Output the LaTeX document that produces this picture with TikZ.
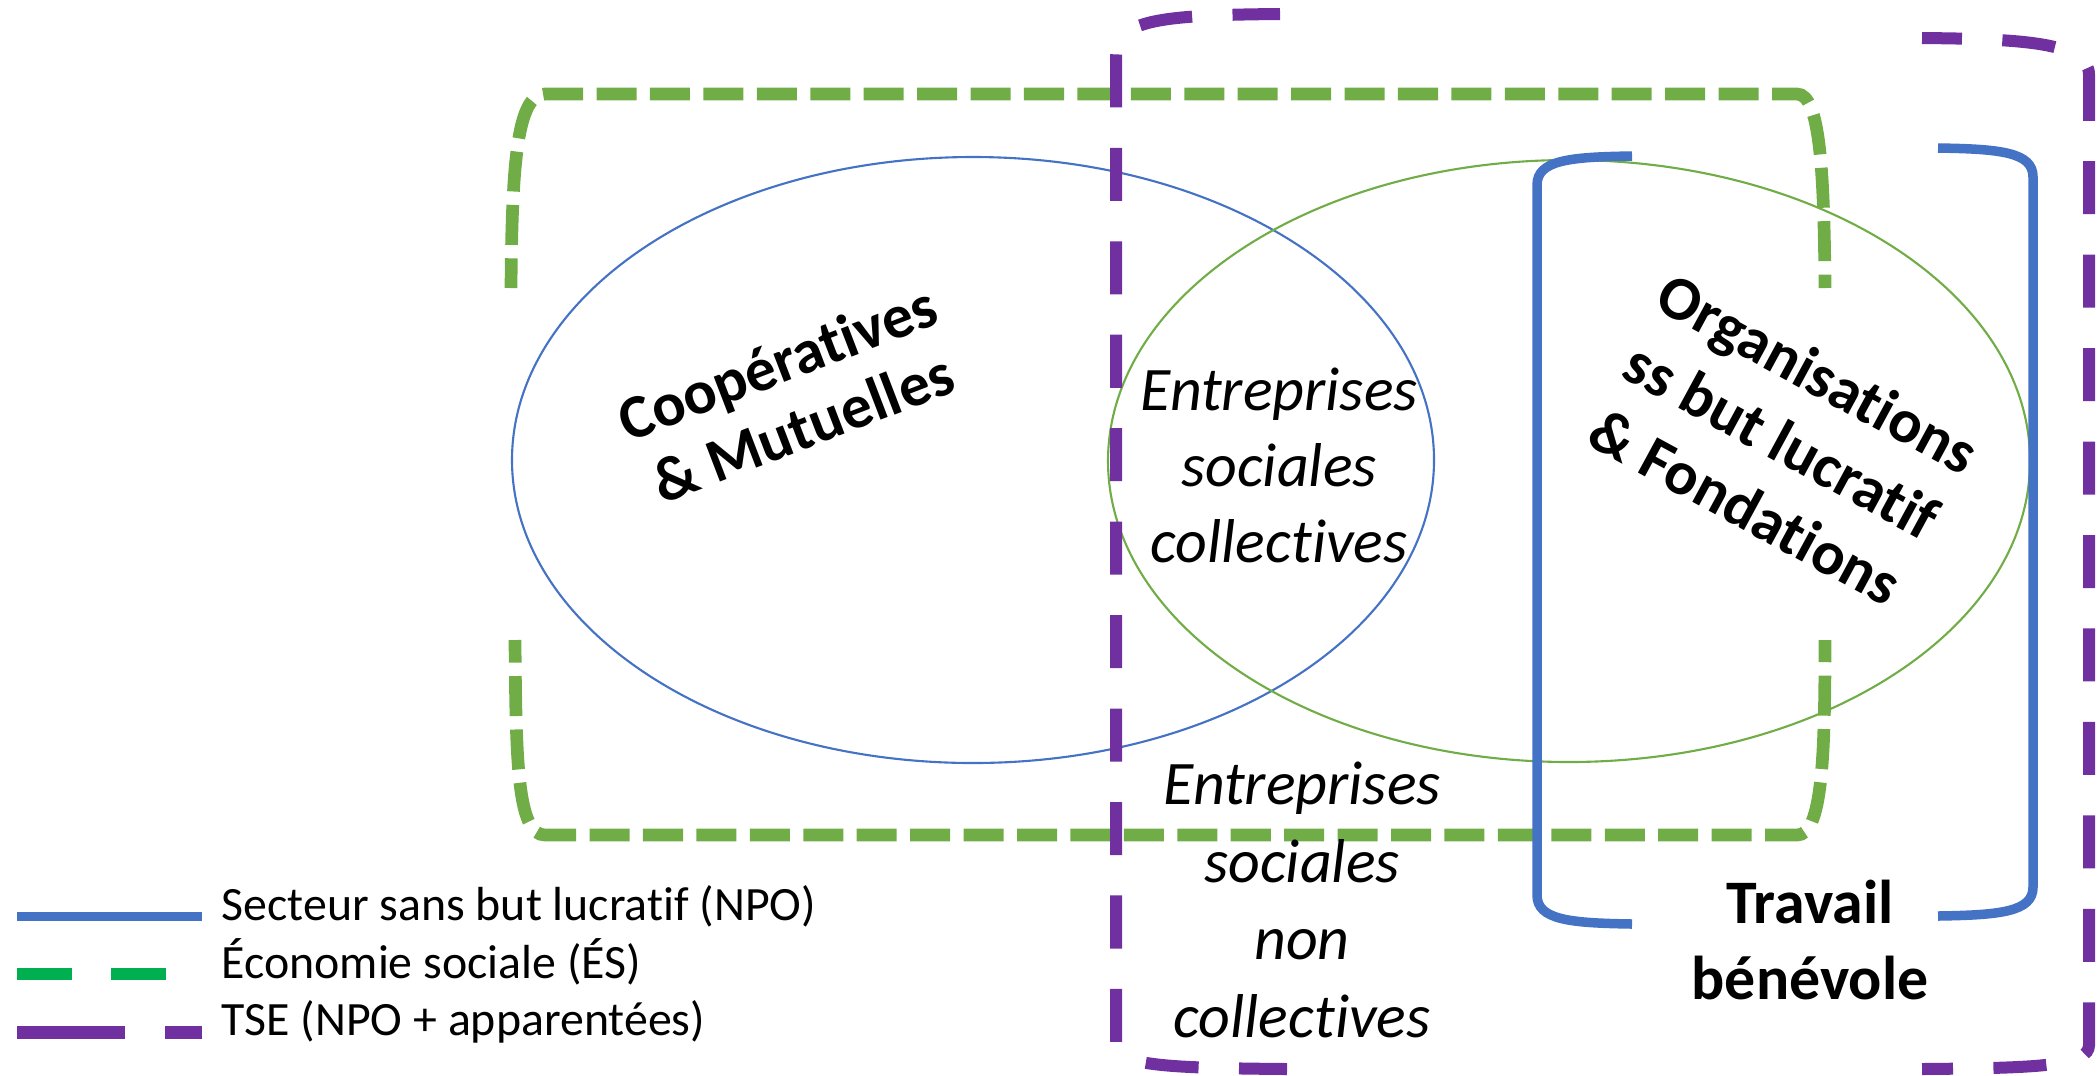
\documentclass[tikz,border=0pt]{standalone}
\usepackage{fontspec}
\setmainfont{Carlito}[Ligatures=NoCommon]
\definecolor{npoblue}{HTML}{4472C4}
\definecolor{esgreen}{HTML}{70AD47}
\definecolor{lggreen}{HTML}{00B050}
\definecolor{tsepurple}{HTML}{7030A0}

\begin{document}
\begin{tikzpicture}[x=0.01cm,y=-0.01cm,
  ov/.style={line width=0.6pt},
  npo/.style={draw=npoblue,line width=0.095cm},
  es/.style={draw=esgreen,line width=0.127cm,dash pattern=on 0.4cm off 0.134cm},
  tse/.style={draw=tsepurple,line width=0.12cm,dash pattern=on 0.53cm off 0.404cm},
  lbl/.style={align=center,inner sep=0pt},
  leg/.style={anchor=base west,inner sep=0pt,font=\fontsize{13.6}{16}\selectfont}]
\useasboundingbox (0,0) rectangle (2098,1075);
\draw[ov,npoblue] (973,460) ellipse [x radius=461,y radius=303];
\draw[ov,esgreen] (1569,461) ellipse [x radius=461,y radius=301];
\draw[es,dash phase=0.103cm] (511,288) .. controls (512,170) and (516,94) .. (545,94)
  -- (1797,94) .. controls (1820,94) and (1824,170) .. (1825,288);
\draw[es,dash phase=0.174cm] (515,640) .. controls (516,760) and (517,835) .. (545,835)
  -- (1797,835) .. controls (1822,835) and (1825,760) .. (1825,640);
\draw[npo] (1632,156) .. controls (1570,157) and (1537,160) .. (1537,185)
  -- (1537,895) .. controls (1537,920) and (1570,923) .. (1632,924);
\draw[npo] (1938,148) .. controls (2000,149) and (2033,152) .. (2033,177)
  -- (2033,887) .. controls (2033,912) and (2000,915) .. (1938,916);
\draw[tse,dash phase=0.05cm] (1287,1069) .. controls (1170,1068) and (1116,1066) .. (1116,1045)
  -- (1116,55) .. controls (1116,20) and (1160,15) .. (1280,14);
\draw[tse,dash phase=0.131cm] (1922,38) .. controls (2020,39) and (2089,42) .. (2089,75)
  -- (2089,1045) .. controls (2089,1066) and (2040,1068) .. (1922,1069);
\node[lbl,rotate=21,font=\fontsize{17.6}{19.9}\selectfont\bfseries] (coop) at (790,395)
  {Coopératives\\\& Mutuelles};
\node[lbl,rotate=-28.5,font=\fontsize{17.6}{21.6}\selectfont\bfseries] (org) at (1782,440)
  {Organisations\\ss but lucratif\\\& Fondations};
\node[lbl,font=\fontsize{17.6}{21.6}\selectfont\itshape] (esc) at (1279,465)
  {Entreprises\\sociales\\collectives};
\node[lbl,font=\fontsize{17.6}{22.1}\selectfont\itshape] (esnc) at (1302,900)
  {Entreprises\\sociales\\non\\collectives};
\node[lbl,font=\fontsize{17.6}{21.8}\selectfont\bfseries] (trav) at (1810,940)
  {Travail\\bénévole};
\coordinate (npoA) at (17,916);
\coordinate (npoB) at (202,916);
\coordinate (esA) at (17,974);
\coordinate (esB) at (202,974);
\coordinate (tseA) at (17,1032);
\coordinate (tseB) at (202,1032);
\draw[npoblue,line width=0.09cm] (npoA) -- (npoB);
\draw[lggreen,line width=0.127cm,dash pattern=on 0.55cm off 0.39cm] (esA) -- (esB);
\draw[tsepurple,line width=0.13cm,dash pattern=on 1.08cm off 0.4cm] (tseA) -- (tseB);
\node[leg] (legnpo) at (221,920) {Secteur sans but lucratif (NPO)};
\node[leg] (leges) at (221,978) {Économie sociale (ÉS)};
\node[leg] (legtse) at (221,1035) {TSE (NPO + apparentées)};
\end{tikzpicture}
\end{document}
